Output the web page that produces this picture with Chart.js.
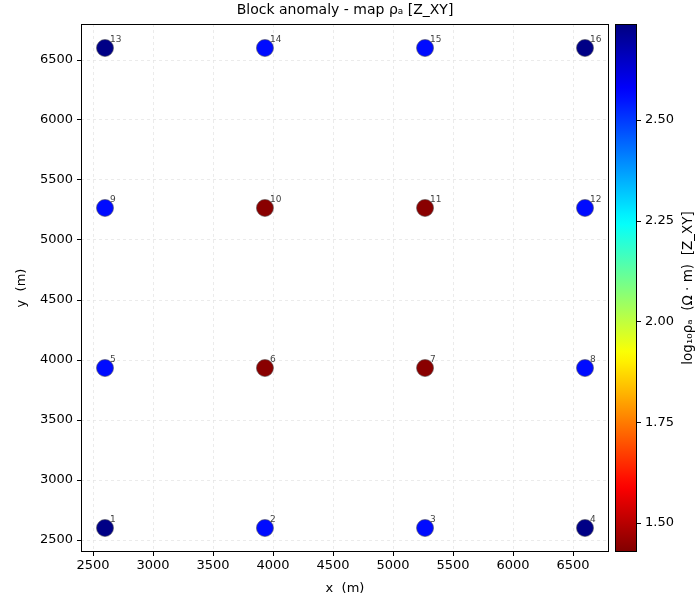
<!DOCTYPE html>
<html>
<head>
<meta charset="utf-8">
<script src="https://cdn.jsdelivr.net/npm/chart.js@4/dist/chart.umd.min.js"></script>
<style>
html,body{margin:0;padding:0;background:#fff;}
#wrap{width:700px;height:600px;position:relative;}
</style>
</head>
<body>
<div id="wrap"><canvas id="c" width="700" height="600"></canvas></div>
<script>
// ---- data ----
const stationIds = ['1','2','3','4','5','6','7','8','9','10','11','12','13','14','15','16'];
const stationX = [2600, 3933, 5267, 6600, 2600, 3933, 5267, 6600, 2600, 3933, 5267, 6600, 2600, 3933, 5267, 6600];
const stationY = [2600, 2600, 2600, 2600, 3933, 3933, 3933, 3933, 5267, 5267, 5267, 5267, 6600, 6600, 6600, 6600];
const log10Rho = [2.73, 2.56, 2.56, 2.73, 2.56, 1.44, 1.44, 2.56, 2.56, 1.44, 1.44, 2.56, 2.73, 2.56, 2.56, 2.73];
const xTicks = [2500, 3000, 3500, 4000, 4500, 5000, 5500, 6000, 6500];
const yTicks = [2500, 3000, 3500, 4000, 4500, 5000, 5500, 6000, 6500];
const cbTicks = [1.50, 1.75, 2.00, 2.25, 2.50];
const cbMin = 1.428, cbMax = 2.738;
const chartTitle = 'Block anomaly - map ρₐ [Z_XY]';
const cbTitle = 'log₁₀ρₐ  (Ω · m)  [Z_XY]';

// ---- helpers ----
function clamp(v){return Math.max(0, Math.min(1, v));}
function jet(t){
  const r = clamp(Math.min(4*t-1.5, -4*t+4.5));
  const g = clamp(Math.min(4*t-0.5, -4*t+3.5));
  const b = clamp(Math.min(4*t+0.5, -4*t+2.5));
  return 'rgb(' + Math.round(r*255) + ',' + Math.round(g*255) + ',' + Math.round(b*255) + ')';
}
function jetR(v){ return jet(1 - (v - cbMin)/(cbMax - cbMin)); }

const FONT = "'DejaVu Sans', sans-serif";
const points = stationX.map((x,i)=>({x:x, y:stationY[i]}));
const pointColors = log10Rho.map(jetR);

const frame = {
  id:'frame',
  beforeDatasetsDraw(chart){
    const {ctx, chartArea:a} = chart;
    ctx.save();
    ctx.strokeStyle = '#000'; ctx.lineWidth = 1;
    ctx.strokeRect(Math.round(a.left)+0.5, Math.round(a.top)+0.5, Math.round(a.right-a.left)-1, Math.round(a.bottom-a.top)-1);
    ctx.restore();
  },
  afterDatasetsDraw(chart){
    const {ctx} = chart;
    const meta = chart.getDatasetMeta(0);
    ctx.save();
    ctx.font = '9px ' + FONT;
    ctx.fillStyle = '#444';
    ctx.textAlign = 'left'; ctx.textBaseline = 'middle';
    meta.data.forEach((el,i)=>{ ctx.fillText(stationIds[i], el.x + 5, el.y - 8); });
    ctx.restore();
  },
  afterDraw(chart){
    const {ctx, chartArea:a} = chart;
    const s = chart.scales.cb;
    const x0 = 615, x1 = 637;
    const top = s.getPixelForValue(cbMax), bot = s.getPixelForValue(cbMin);
    const grad = ctx.createLinearGradient(0, bot, 0, top);
    for(let k=0;k<=50;k++){ const f=k/50; grad.addColorStop(f, jetR(cbMin + f*(cbMax-cbMin))); }
    ctx.save();
    ctx.fillStyle = grad;
    ctx.fillRect(x0, top, x1-x0, bot-top);
    ctx.strokeStyle = '#000'; ctx.lineWidth = 1;
    ctx.strokeRect(x0+0.5, Math.round(top)+0.5, x1-x0-1, Math.round(bot-top)-1);
    cbTicks.forEach(v=>{
      const y = Math.round(s.getPixelForValue(v))+0.5;
      ctx.beginPath(); ctx.moveTo(x1, y); ctx.lineTo(x1+4, y); ctx.stroke();
    });
    // colorbar label (rotated CCW like matplotlib)
    ctx.fillStyle = '#000';
    ctx.font = '13.5px ' + FONT;
    ctx.textAlign = 'center'; ctx.textBaseline = 'middle';
    ctx.translate(688, (a.top + a.bottom)/2);
    ctx.rotate(-Math.PI/2);
    ctx.fillText(cbTitle, 0, 0);
    ctx.restore();
    // chart title
    ctx.save();
    ctx.fillStyle = '#000';
    ctx.font = '14px ' + FONT;
    ctx.textAlign = 'center'; ctx.textBaseline = 'middle';
    ctx.fillText(chartTitle, (a.left + a.right)/2, 10);
    ctx.restore();
  }
};

const gridOpts = {color:'#e6e6e6', lineWidth:0.8, tickColor:'#000', tickLength:4, tickWidth:1, tickBorderDash:[]};

new Chart(document.getElementById('c'), {
  type:'scatter',
  data:{datasets:[{
    data: points,
    pointRadius: 8.5, pointHoverRadius: 8.5,
    backgroundColor: pointColors,
    borderColor: '#555', borderWidth: 0.6
  }]},
  options:{
    responsive:false, animation:false, devicePixelRatio:1,
    layout:{padding:{left:0,right:0,top:24,bottom:0}},
    plugins:{
      legend:{display:false}, tooltip:{enabled:false}, title:{display:false}
    },
    scales:{
      x:{type:'linear', min:2400, max:6800,
        afterBuildTicks(sc){ sc.ticks = xTicks.map(v=>({value:v})); },
        afterFit(sc){ sc.height = 48; },
        grid:gridOpts, border:{display:false, dash:[3,3]},
        ticks:{color:'#000', font:{family:FONT, size:13}, padding:2, maxRotation:0, callback:v=>String(v)},
        title:{display:true, text:'x  (m)', color:'#000', font:{family:FONT, size:13}, padding:{top:2,bottom:4}}
      },
      y:{type:'linear', min:2400, max:6800, position:'left',
        afterBuildTicks(sc){ sc.ticks = yTicks.map(v=>({value:v})); },
        afterFit(sc){ sc.width = 81; },
        grid:gridOpts, border:{display:false, dash:[3,3]},
        ticks:{color:'#000', font:{family:FONT, size:13}, padding:4, callback:v=>String(v)},
        title:{display:true, text:'y  (m)', color:'#000', font:{family:FONT, size:13}, padding:{top:14,bottom:0}}
      },
      cb:{type:'linear', min:cbMin, max:cbMax, position:'right',
        afterBuildTicks(sc){ sc.ticks = cbTicks.map(v=>({value:v})); },
        afterFit(sc){ sc.width = 91; },
        grid:{drawOnChartArea:false, drawTicks:true, tickLength:32, tickColor:'rgba(0,0,0,0)'}, border:{display:false},
        ticks:{color:'#000', font:{family:FONT, size:13}, padding:4, callback:v=>Number(v).toFixed(2)},
        title:{display:false}
      }
    }
  },
  plugins:[frame]
});
</script>
</body>
</html>
